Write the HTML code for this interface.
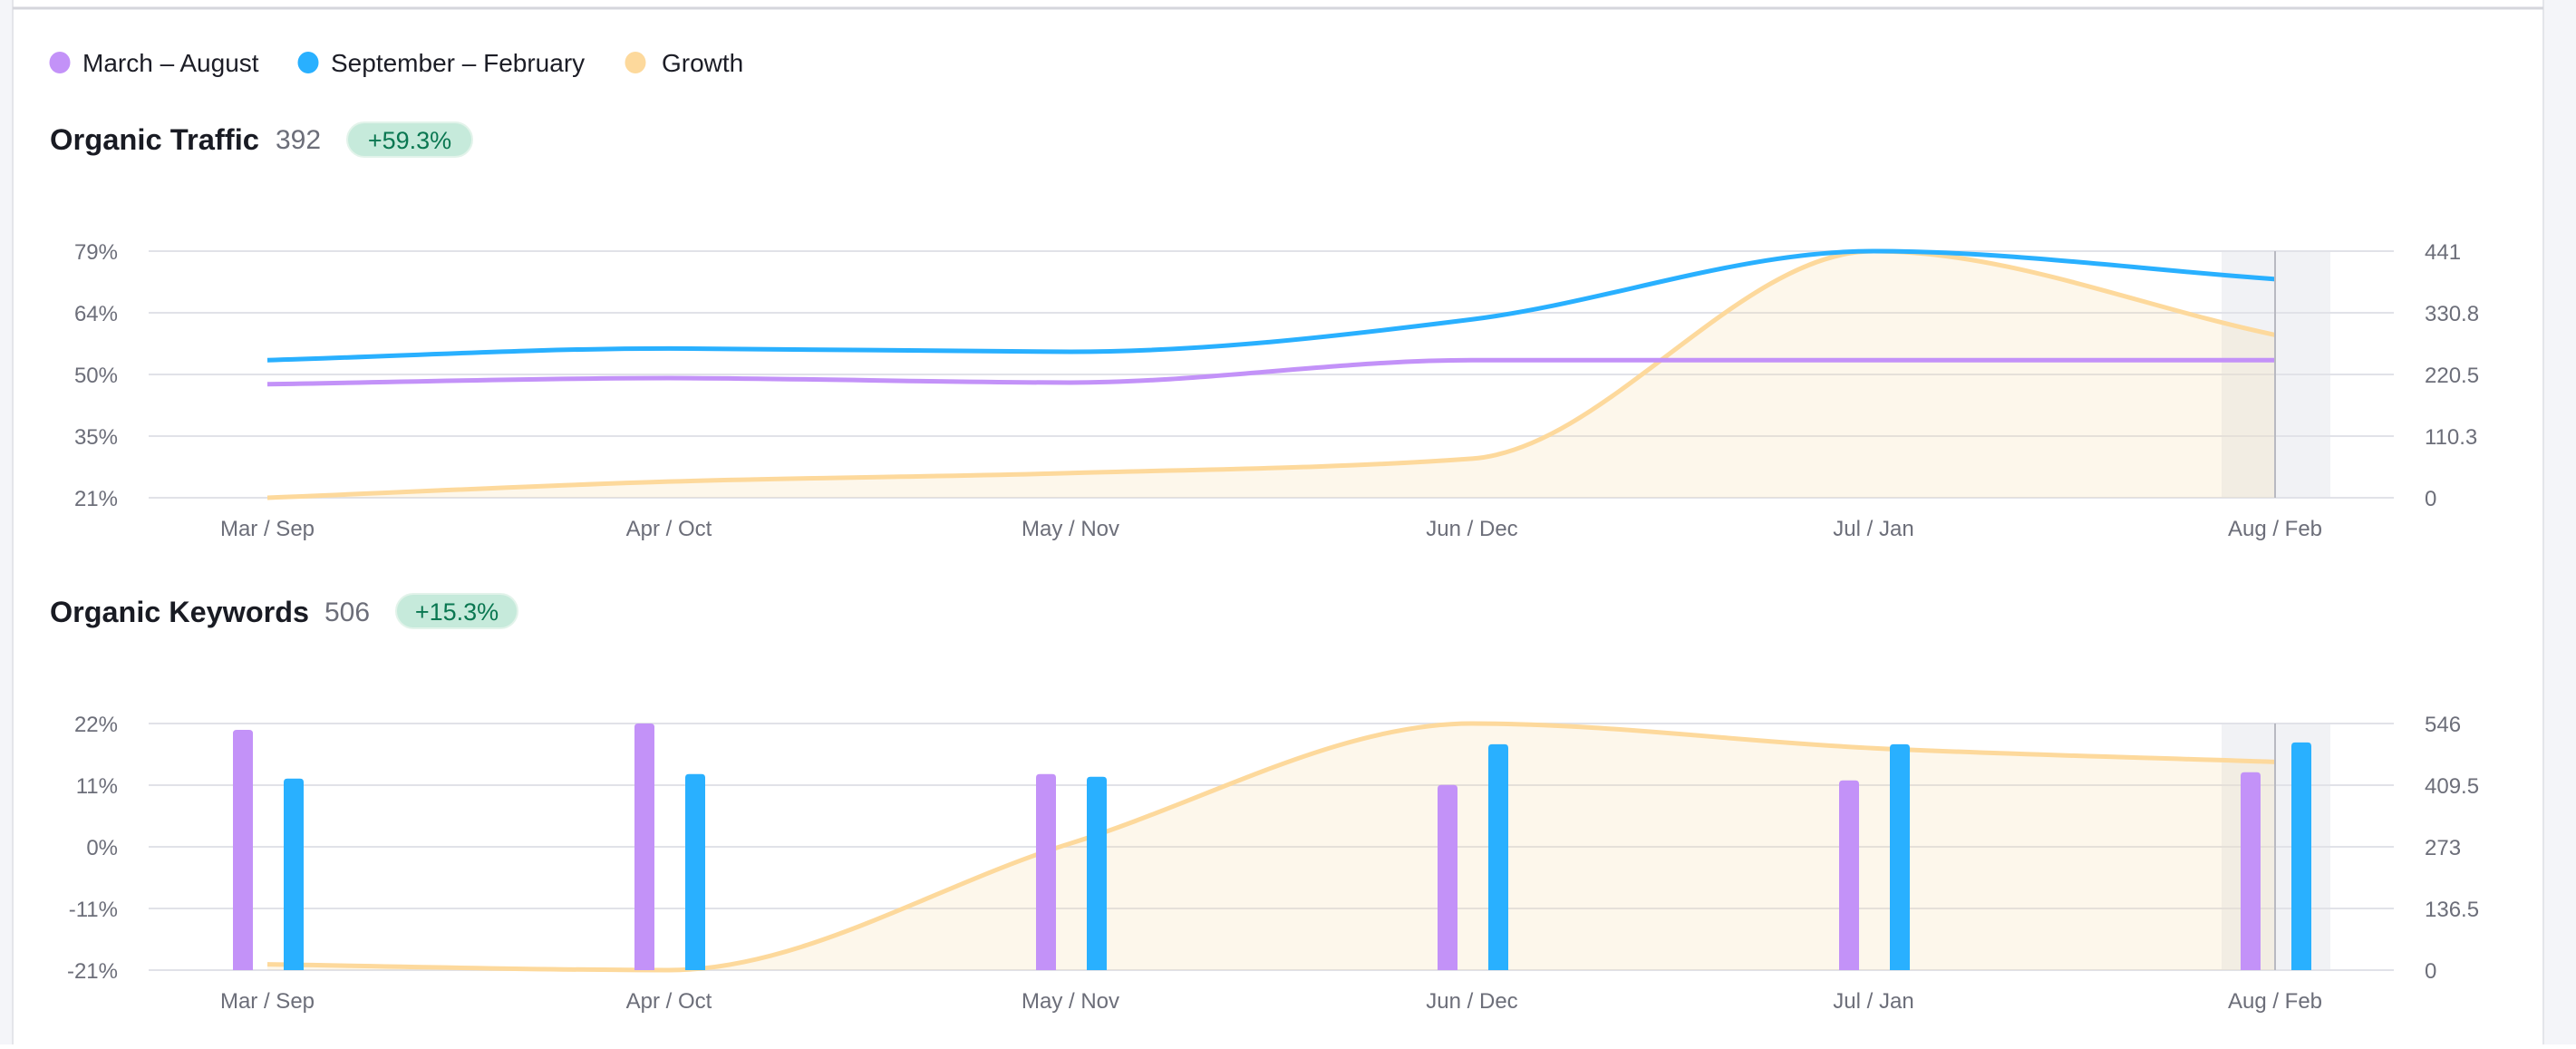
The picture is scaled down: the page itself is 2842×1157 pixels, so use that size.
<!DOCTYPE html>
<html><head><meta charset="utf-8">
<style>
html,body{margin:0;padding:0;background:#fff;}
body{width:2842px;height:1152px;overflow:hidden;position:relative;font-family:"Liberation Sans",sans-serif;}
svg text{font-family:"Liberation Sans",sans-serif;}
</style></head>
<body>
<svg id="root" width="2842" height="1152" viewBox="0 0 2842 1152" xmlns="http://www.w3.org/2000/svg">
  <rect x="0" y="0" width="14" height="1152" fill="#f4f5f9"/>
  <line x1="14" y1="0" x2="14" y2="1152" stroke="#e4e5ea" stroke-width="2"/>
  <rect x="2806" y="0" width="36" height="1152" fill="#f4f5f9"/>
  <line x1="2806" y1="0" x2="2806" y2="1152" stroke="#e4e5ea" stroke-width="2"/>
  <line x1="14" y1="9" x2="2806" y2="9" stroke="#d5d6dc" stroke-width="3"/>

  <g>
    <g>
      <ellipse cx="66" cy="69" rx="11.5" ry="12" fill="#c392f8"/>
      <text x="91" y="79" font-size="28" fill="#1c1d26">March – August</text>
    </g>
    <g>
      <ellipse cx="340" cy="69" rx="11.5" ry="12" fill="#29b0ff"/>
      <text x="365" y="79" font-size="28" fill="#1c1d26">September – February</text>
    </g>
    <g>
      <ellipse cx="701" cy="69" rx="11.5" ry="12" fill="#fdd99c"/>
      <text x="730" y="79" font-size="28" fill="#1c1d26">Growth</text>
    </g>
  </g>

  <g>
    <text x="55" y="165" font-size="32" font-weight="bold" fill="#191b23" textLength="231" lengthAdjust="spacingAndGlyphs">Organic Traffic</text>
    <text x="304" y="164" font-size="30" fill="#6c6e79">392</text>
    <rect x="383" y="135" width="138" height="38" rx="19" fill="#c6eadb" stroke="#e2f3ea" stroke-width="2"/>
    <text x="452" y="164" font-size="27" fill="#0a7751" text-anchor="middle">+59.3%</text>
  </g>
  <g>
    <text x="55" y="686" font-size="32" font-weight="bold" fill="#191b23" textLength="286" lengthAdjust="spacingAndGlyphs">Organic Keywords</text>
    <text x="358" y="685" font-size="30" fill="#6c6e79">506</text>
    <rect x="437" y="655" width="134" height="38" rx="19" fill="#c6eadb" stroke="#e2f3ea" stroke-width="2"/>
    <text x="504" y="684" font-size="27" fill="#0a7751" text-anchor="middle">+15.3%</text>
  </g>

  <g id="chart1"></g>
  <g id="chart2"></g>
</svg>
<script>
// ---- shared data ----
const categories = ["Mar / Sep","Apr / Oct","May / Nov","Jun / Dec","Jul / Jan","Aug / Feb"];
// Organic traffic
const trafficMarAug = [203, 214, 206, 246, 246, 246];
const trafficSepFeb = [246, 267, 261, 319, 441, 391];
const trafficGrowth = [21, 24.8, 26.8, 30.2, 79, 59.3];
const trafficLeftTicks = ["21%","35%","50%","64%","79%"];
const trafficRightTicks = ["0","110.3","220.5","330.8","441"];
// Organic keywords
const keywordsMarAug = [532, 546, 434, 410, 420, 438];
const keywordsSepFeb = [424, 434, 428, 500, 500, 504];
const keywordsGrowth = [-20, -21, 1.1, 22, 17.7, 15.3];
const keywordsLeftTicks = ["-21%","-11%","0%","11%","22%"];
const keywordsRightTicks = ["0","136.5","273","409.5","546"];

const NS = "http://www.w3.org/2000/svg";
function mk(tag, attrs, parent){
  const e = document.createElementNS(NS, tag);
  for (const k in attrs) e.setAttribute(k, attrs[k]);
  parent.appendChild(e);
  return e;
}
const X0 = 295, DX = 443;
function xPos(i){ return X0 + i * DX; }

function monotonePath(pts){
  const n = pts.length;
  const dx=[], m=[], t=[];
  for (let i=0;i<n-1;i++){ dx[i]=pts[i+1][0]-pts[i][0]; m[i]=(pts[i+1][1]-pts[i][1])/dx[i]; }
  t[0]=m[0]; t[n-1]=m[n-2];
  for (let i=1;i<n-1;i++){
    if (m[i-1]*m[i] <= 0) t[i]=0;
    else { const h0=dx[i-1], h1=dx[i]; const p=(m[i-1]*h1+m[i]*h0)/(h0+h1);
      t[i]=(Math.sign(m[i-1])+Math.sign(m[i]))*Math.min(Math.abs(m[i-1]),Math.abs(m[i]),0.5*Math.abs(p)); }
  }
  let d = "M"+pts[0][0]+","+pts[0][1];
  for (let i=0;i<n-1;i++){
    const h=dx[i]/3;
    d += " C"+(pts[i][0]+h)+","+(pts[i][1]+t[i]*h)+" "+(pts[i+1][0]-h)+","+(pts[i+1][1]-t[i+1]*h)+" "+pts[i+1][0]+","+pts[i+1][1];
  }
  return d;
}

function drawAxes(g, top, bottom, leftTicks, rightTicks){
  const n = leftTicks.length;
  mk("rect",{x:2451,y:top,width:120,height:bottom-top,fill:"#f1f2f5"},g);
  for (let i=0;i<n;i++){
    const y = bottom - i*(bottom-top)/(n-1);
    const gl = mk("line",{x1:164,x2:2641,y1:y,y2:y,stroke:"#e1e2e8","stroke-width":2},g);
    
    
    const lt = mk("text",{x:130,y:y+9,"font-size":24,fill:"#6c6e79","text-anchor":"end"},g);
    lt.textContent = leftTicks[i];
    
    
    const rt = mk("text",{x:2675,y:y+9,"font-size":24,fill:"#6c6e79"},g);
    rt.textContent = rightTicks[i];
    
    
  }
  categories.forEach((c,i)=>{
    const t = mk("text",{x:xPos(i),y:bottom+42,"font-size":24,fill:"#6c6e79","text-anchor":"middle"},g);
    t.textContent = c;
    
    
  });
}
function drawGrowth(g, vals, yL, bottom){
  const pts = vals.map((v,i)=>[xPos(i), yL(v)]);
  const d = monotonePath(pts);
  const area = mk("path",{d:d+" L"+pts[pts.length-1][0]+","+bottom+" L"+pts[0][0]+","+bottom+" Z",fill:"#f6d9a3","fill-opacity":0.22},g);
  
  
  const line = mk("path",{d:d,fill:"none",stroke:"#fdd99c","stroke-width":5},g);
  
  
}
function drawCursor(g, top, bottom){
  const c = mk("line",{x1:xPos(5),x2:xPos(5),y1:top,y2:bottom,stroke:"#b8b9c1","stroke-width":2},g);
  
  
}

// ---- chart 1 ----
(function(){
  const g = document.getElementById("chart1");
  const top=277, bottom=549;
  const yL = v => bottom - (v-21)/(79-21)*(bottom-top);
  const yR = v => bottom - v/441*(bottom-top);
  drawAxes(g, top, bottom, trafficLeftTicks, trafficRightTicks);
  drawGrowth(g, trafficGrowth, yL, bottom);
  const p1 = mk("path",{d:monotonePath(trafficMarAug.map((v,i)=>[xPos(i),yR(v)])),fill:"none",stroke:"#c392f8","stroke-width":5},g);
  
  
  const p2 = mk("path",{d:monotonePath(trafficSepFeb.map((v,i)=>[xPos(i),yR(v)])),fill:"none",stroke:"#29b0ff","stroke-width":5},g);
  
  
  drawCursor(g, top, bottom);
})();

// ---- chart 2 ----
(function(){
  const g = document.getElementById("chart2");
  const top=798, bottom=1070;
  const yL = v => bottom - (v+21)/(22+21)*(bottom-top);
  const yR = v => bottom - v/546*(bottom-top);
  drawAxes(g, top, bottom, keywordsLeftTicks, keywordsRightTicks);
  drawGrowth(g, keywordsGrowth, yL, bottom);
  const bw = 22;
  function bar(cx, v, color, name){
    const y = yR(v), h = bottom - y, r = 4;
    const d = "M"+(cx-bw/2)+","+bottom+" V"+(y+r)+" Q"+(cx-bw/2)+","+y+" "+(cx-bw/2+r)+","+y+" H"+(cx+bw/2-r)+" Q"+(cx+bw/2)+","+y+" "+(cx+bw/2)+","+(y+r)+" V"+bottom+" Z";
    const b = mk("path",{d:d,fill:color},g);
    
    
  }
  keywordsMarAug.forEach((v,i)=>bar(xPos(i)-27, v, "#c392f8", "bar-march-august"));
  keywordsSepFeb.forEach((v,i)=>bar(xPos(i)+29, v, "#29b0ff", "bar-september-february"));
  drawCursor(g, top, bottom);
})();
</script>
</body></html>
